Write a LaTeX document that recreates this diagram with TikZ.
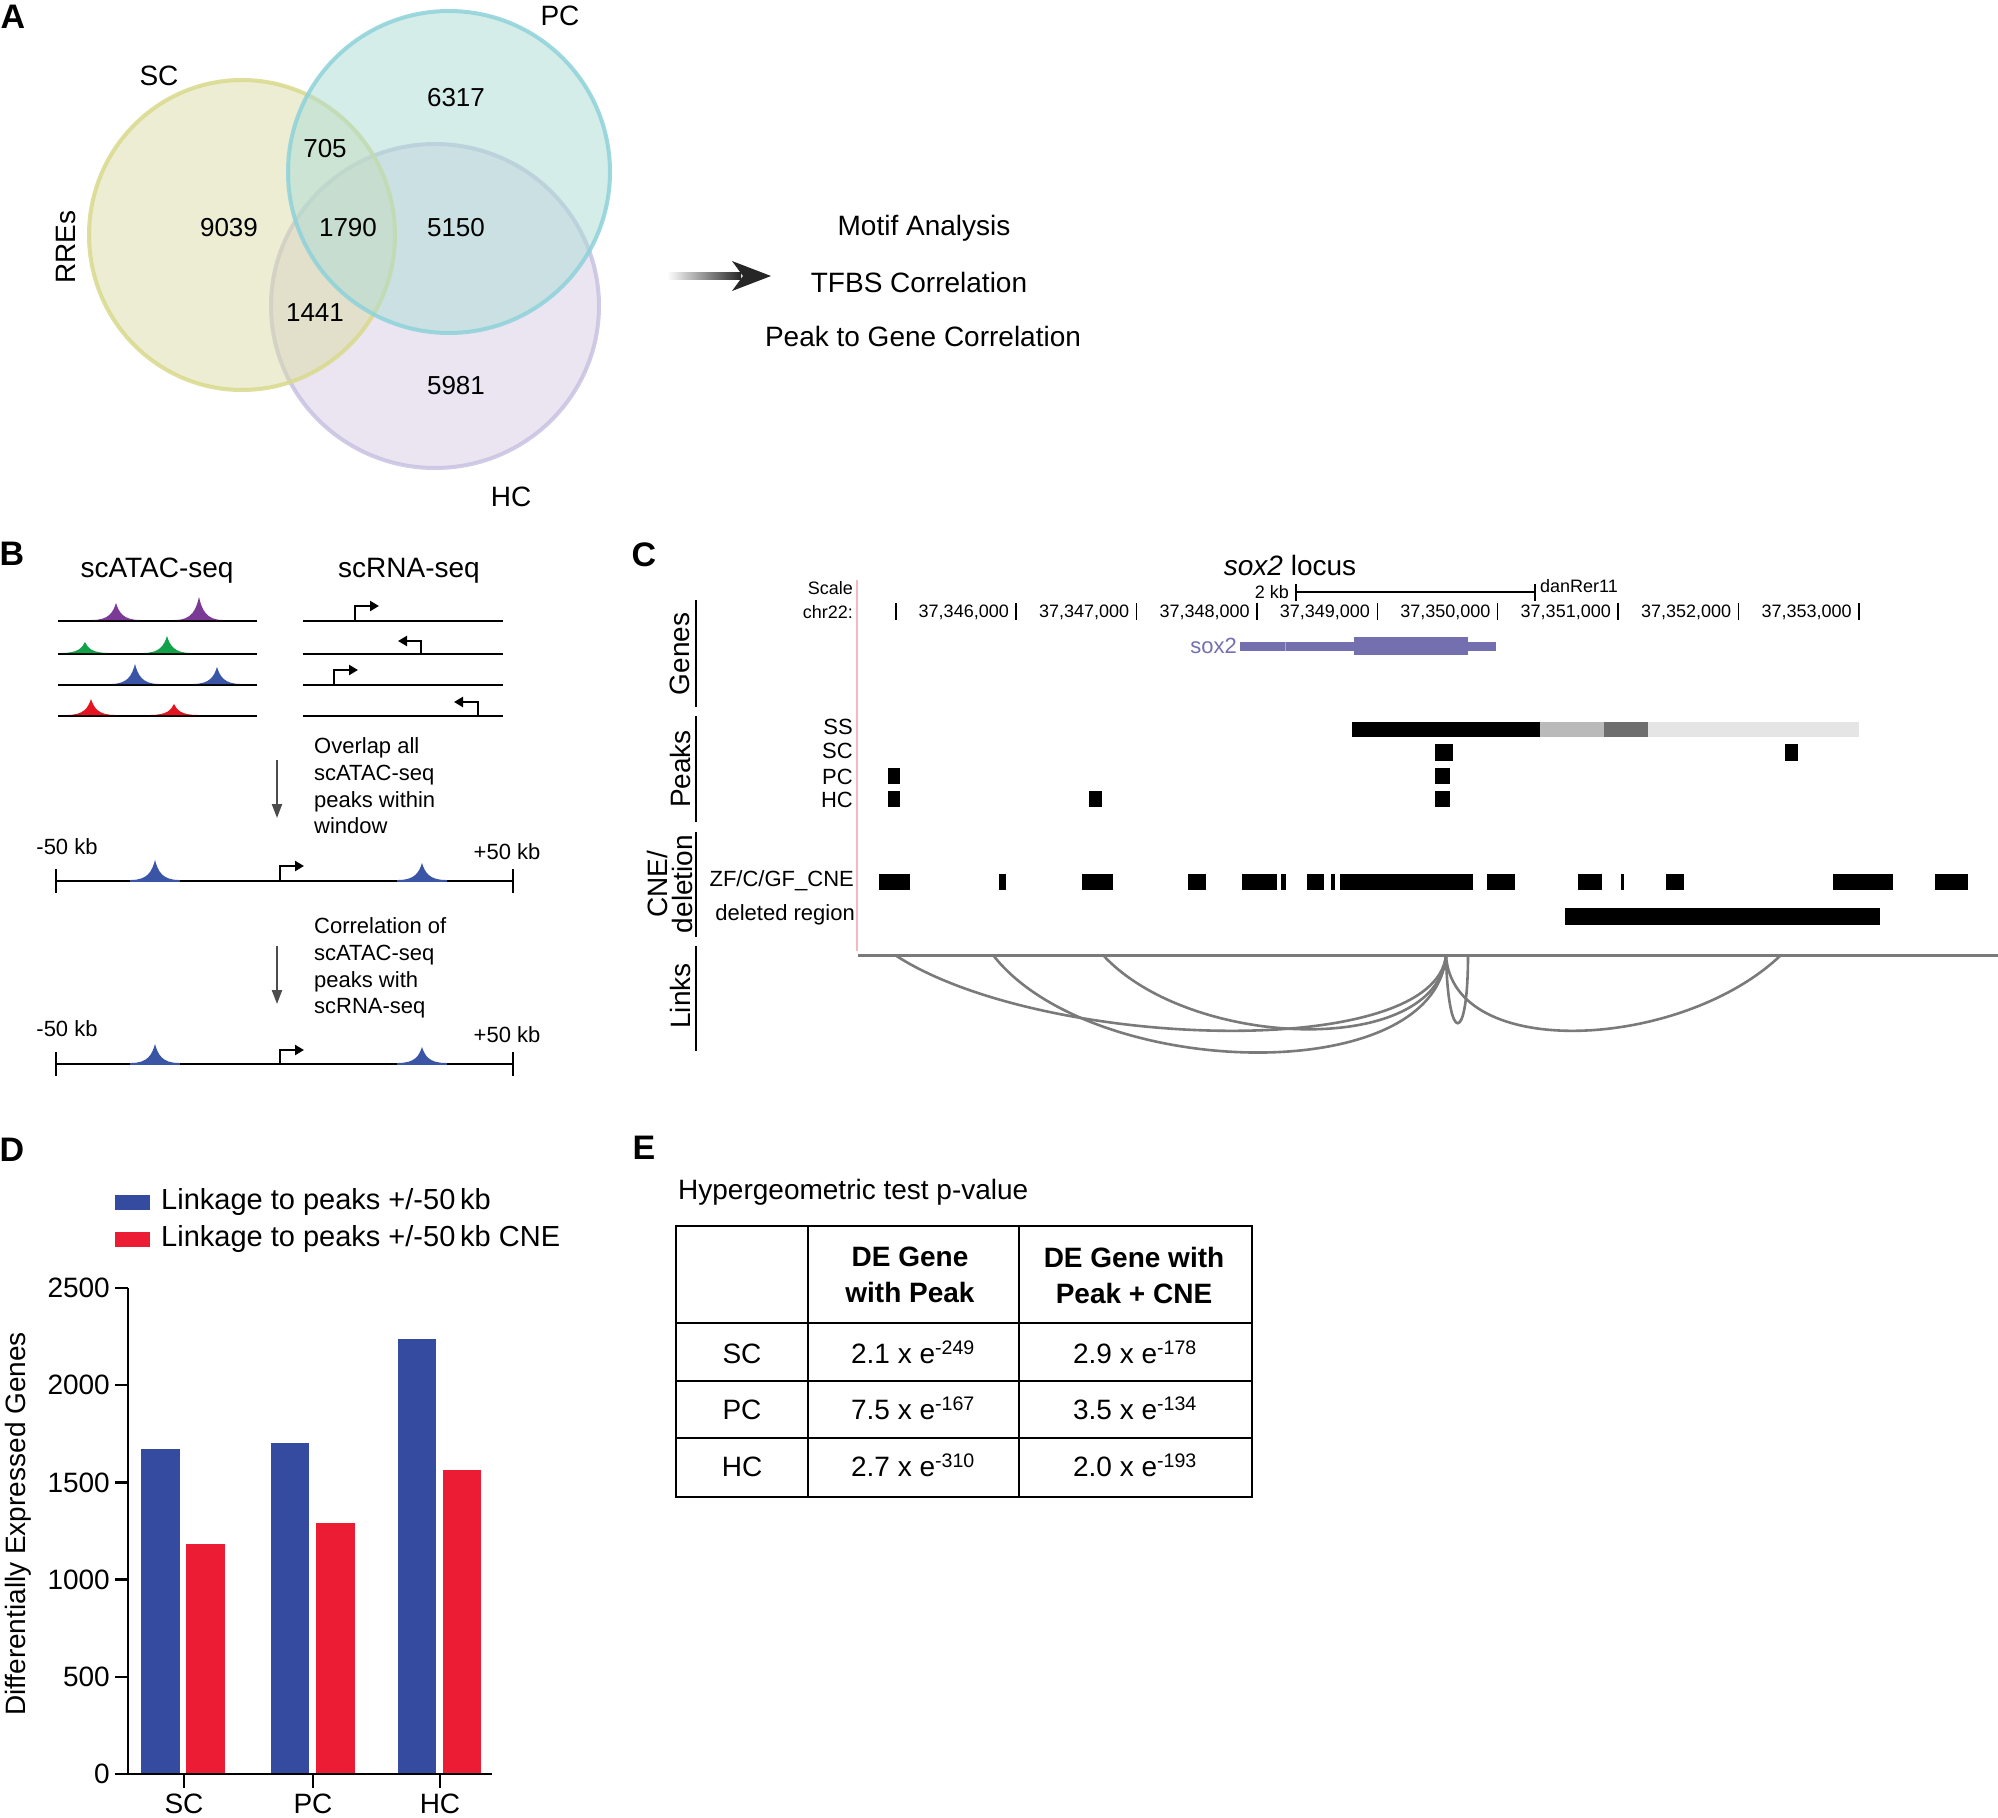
\documentclass[tikz,border=0pt]{standalone}
\usepackage{fontspec}
\setmainfont{Liberation Sans}
\usetikzlibrary{arrows.meta}
\newcommand\fsz[2]{\fontsize{#1}{#2}\selectfont}
\definecolor{scfill}{HTML}{DADCA6}
\definecolor{scline}{HTML}{D9DA8C}
\definecolor{pcfill}{HTML}{ABDCD4}
\definecolor{pcline}{HTML}{8ED2DA}
\definecolor{hcfill}{HTML}{D8CCE6}
\definecolor{hcline}{HTML}{C8C2E2}
\definecolor{atpurple}{HTML}{7B3A96}
\definecolor{atgreen}{HTML}{12A24A}
\definecolor{atblue}{HTML}{3A55A5}
\definecolor{atred}{HTML}{E5131F}
\definecolor{genepurple}{HTML}{7470B0}
\definecolor{linkgray}{HTML}{7A7A7A}
\definecolor{barblue}{HTML}{354B9F}
\definecolor{barred}{HTML}{EC1C35}
\definecolor{pinkline}{HTML}{F4B8BE}
\newcommand\atacpeak[4]{%
  \fill[#4] ({#1-24},#2) .. controls ({#1-7},#2) and ({#1-3},{#3+0.55*(#2-#3)}) .. (#1,#3)
     .. controls ({#1+3},{#3+0.55*(#2-#3)}) and ({#1+7},#2) .. ({#1+24},#2) -- cycle;}
\begin{document}
\begin{tikzpicture}[x=1pt,y=-1pt,
  lab/.style={font=\fsz{34}{40}\bfseries, inner sep=0},
  t28/.style={font=\fsz{28}{34}, inner sep=0},
  t26/.style={font=\fsz{26}{31}, inner sep=0},
  t22/.style={font=\fsz{22}{27}, inner sep=0},
  t18/.style={font=\fsz{18}{22}, inner sep=0},
  bline/.style={line width=2.5, black},
  prom/.style={line width=2.6, black, -{Triangle[length=9pt,width=10pt]}},
  downarr/.style={line width=2.2, black!70, -{Triangle[length=14pt,width=10pt]}},
  linkarc/.style={linkgray, line width=2.6},
  trk/.style={line width=2, black},
  tick/.style={line width=1.4, black},
]
\clip (0,0) rectangle (1998,1818);
\fill[white] (0,0) rectangle (1998,1818);

% ---------------- Panel A ----------------
\node[lab] (labA) at (13,17) {A};
\fill[hcfill,fill opacity=.5] (435,306) ellipse [x radius=164,y radius=162];
\draw[hcline,line width=4,draw opacity=.85] (435,306) ellipse [x radius=164,y radius=162];
\fill[scfill,fill opacity=.5] (242,235) ellipse [x radius=153,y radius=155];
\draw[scline,line width=4,draw opacity=.85] (242,235) ellipse [x radius=153,y radius=155];
\fill[pcfill,fill opacity=.5] (449,172) ellipse [x radius=161,y radius=161];
\draw[pcline,line width=4,draw opacity=.85] (449,172) ellipse [x radius=161,y radius=161];
\node[t28] (vSC) at (159,76) {SC};
\node[t28] (vPC) at (560,16) {PC};
\node[t28] (vHC) at (511,497) {HC};
\node[t28,rotate=90] (vRRE) at (66,247) {RREs};
\node[t26] (n6317) at (456,98) {6317};
\node[t26] (n705) at (325,149) {705};
\node[t26] (n9039) at (229,228) {9039};
\node[t26] (n1790) at (348,228) {1790};
\node[t26] (n5150) at (456,228) {5150};
\node[t26] (n1441) at (315,313) {1441};
\node[t26] (n5981) at (456,386) {5981};
\coordinate (arrAs) at (667,276);
\coordinate (arrAe) at (771,276);
\shade[left color=white, right color=black!85] (667,272.5) rectangle (741,279.5);
\fill[black!85] (732,261) -- (arrAe) -- (732,291) -- (743,276) -- cycle;
\node[t28] (motif) at (924,228) {Motif Analysis};
\node[t28] (tfbs) at (919,282) {TFBS Correlation};
\node[t28] (p2g) at (923,336) {Peak to Gene Correlation};

% ---------------- Panel B ----------------
\node[lab] (labB) at (12,554) {B};
\node[t28] (atacT) at (157,571) {scATAC-seq};
\node[t28] (rnaT) at (409,571) {scRNA-seq};
\foreach \yy in {621,654,685,716}{
  \draw[bline] (58,\yy) -- (257,\yy);
  \draw[bline] (303,\yy) -- (503,\yy);
}
\atacpeak{116}{620}{603}{atpurple}
\atacpeak{199}{620}{597}{atpurple}
\atacpeak{85}{653}{642}{atgreen}
\atacpeak{167}{653}{636}{atgreen}
\atacpeak{135}{684}{664}{atblue}
\atacpeak{217}{684}{667}{atblue}
\atacpeak{91}{715}{699}{atred}
\atacpeak{174}{715}{704}{atred}
\draw[prom] (355,621) -- (355,606) -- (379,606);
\draw[prom] (421,654) -- (421,641) -- (398,641);
\draw[prom] (334,685) -- (334,670) -- (358,670);
\draw[prom] (478,716) -- (478,702) -- (454,702);
\coordinate (dA1) at (277,760);
\coordinate (dA2) at (277,818);
\draw[downarr] (dA1) -- (dA2);
\node[font=\fsz{22}{26.7}, inner sep=0, anchor=west, align=left] (ovl) at (314,786)
  {Overlap all\\scATAC-seq\\peaks within\\window};
\node[t22] (m50a) at (67,847) {-50 kb};
\node[t22] (p50a) at (507,852) {+50 kb};
\draw[bline] (56,881) -- (513,881);
\draw[bline] (56,869) -- (56,893);
\draw[bline] (513,869) -- (513,893);
\draw[atblue,line width=2.5] (130,881) -- (180,881);
\draw[atblue,line width=2.5] (397,881) -- (447,881);
\atacpeak{155}{880}{860}{atblue}
\atacpeak{422}{880}{863}{atblue}
\draw[prom] (280,881) -- (280,866) -- (304,866);
\coordinate (dB1) at (277,946);
\coordinate (dB2) at (277,1004);
\draw[downarr] (dB1) -- (dB2);
\node[font=\fsz{22}{26.7}, inner sep=0, anchor=west, align=left] (corr) at (314,968)
  {Correlation of\\scATAC-seq\\peaks with\\scRNA-seq};
\node[t22] (m50b) at (67,1029) {-50 kb};
\node[t22] (p50b) at (507,1035) {+50 kb};
\draw[bline] (56,1064) -- (513,1064);
\draw[bline] (56,1052) -- (56,1076);
\draw[bline] (513,1052) -- (513,1076);
\draw[atblue,line width=2.5] (130,1064) -- (180,1064);
\draw[atblue,line width=2.5] (397,1064) -- (447,1064);
\atacpeak{155}{1063}{1044}{atblue}
\atacpeak{422}{1063}{1047}{atblue}
\draw[prom] (280,1064) -- (280,1050) -- (304,1050);

% ---------------- Panel C ----------------
\node[lab] (labC) at (644,555) {C};
\node[t28] (locus) at (1290,565) {\textit{sox2} locus};
\node[t18,anchor=east] (scaleT) at (853,588) {Scale};
\node[t18,anchor=east] (chrT) at (853,612) {chr22:};
\node[t18,anchor=east] (kbT) at (1289,592) {2 kb};
\draw[line width=1.6] (1296,592) -- (1535,592);
\draw[line width=1.6] (1296,584) -- (1296,601);
\draw[line width=1.6] (1535,584) -- (1535,601);
\node[t18,anchor=west] (danT) at (1540,586) {danRer11};
\draw[tick] (896,603) -- (896,620);
\foreach \k/\lbl in {0/37{,}346{,}000,1/37{,}347{,}000,2/37{,}348{,}000,3/37{,}349{,}000,4/37{,}350{,}000,5/37{,}351{,}000,6/37{,}352{,}000,7/37{,}353{,}000}{
  \draw[tick] ({1016+120.4*\k},603) -- ({1016+120.4*\k},620);
  \node[t18,anchor=east] (tk\k) at ({1009+120.4*\k},612) {\lbl};
}
\draw[pinkline,line width=1.4] (857,580) -- (857,951);
\node[font=\fsz{22}{27}, inner sep=0, anchor=east, text=genepurple] (sox2T) at (1237,646) {sox2};
\fill[genepurple] (1240,642) rectangle (1496,651);
\fill[genepurple] (1354,637) rectangle (1468,655);
\draw[genepurple!60!white,line width=0.8] (1285,642) -- (1285,651);
% group labels
\node[t28,rotate=90] (gGenes) at (680,654) {Genes};
\draw[trk] (696,600) -- (696,707);
\node[t28,rotate=90] (gPeaks) at (680,769) {Peaks};
\draw[trk] (696,716) -- (696,822);
\node[font=\fsz{28}{25}, inner sep=0, rotate=90, align=center] (gCNE) at (670,884) {CNE/\\deletion};
\draw[trk] (696,832) -- (696,937);
\node[t28,rotate=90] (gLinks) at (680,996) {Links};
\draw[trk] (696,946) -- (696,1051);
% peak tracks
\node[t22,anchor=east] (lSS) at (853,727) {SS};
\node[t22,anchor=east] (lSC) at (853,751) {SC};
\node[t22,anchor=east] (lPC) at (853,777) {PC};
\node[t22,anchor=east] (lHC) at (853,800) {HC};
\fill[black] (1352,722) rectangle (1540,737);
\fill[black!27] (1540,722) rectangle (1604,737);
\fill[black!57] (1604,722) rectangle (1648,737);
\fill[black!10] (1648,722) rectangle (1859,737);
\fill[black] (1435,744) rectangle (1453,761);
\fill[black] (1785,744) rectangle (1798,761);
\fill[black] (888,768) rectangle (900,784);
\fill[black] (1435,768) rectangle (1450,784);
\fill[black] (888,791) rectangle (900,807);
\fill[black] (1089,791) rectangle (1102,807);
\fill[black] (1435,791) rectangle (1450,807);
% CNE track
\node[t22,anchor=east] (lCNE) at (854,881) {ZF/C/GF\_CNE};
\node[t22,anchor=east] (lDel) at (855,915) {deleted region};
\foreach \a/\b in {879/910,999/1006,1082/1113,1188/1206,1242/1277,1281/1286,1307/1324,1331/1335,1340/1473,1487/1515,1578/1602,1621/1624,1666/1684,1833/1893,1935/1968}{
  \fill[black] (\a,874) rectangle (\b,890);
}
\fill[black] (1565,908) rectangle (1880,925);
% links
\draw[linkgray,line width=3] (858,955) -- (1998,955);
\draw[linkarc] (895,955) .. controls (1040,1050) and (1436,1062) .. (1446,955);
\draw[linkarc] (993,955) .. controls (1090,1080) and (1436,1090) .. (1446,955);
\draw[linkarc] (1103,955) .. controls (1190,1050) and (1438,1058) .. (1446,955);
\draw[linkarc] (1446,955) .. controls (1448,1046) and (1468,1046) .. (1468,955);
\draw[linkarc] (1446,955) .. controls (1452,1062) and (1682,1050) .. (1781,955);

% ---------------- Panel D ----------------
\node[lab] (labD) at (12,1150) {D};
\fill[barblue] (115,1195) rectangle (150,1210);
\fill[barred] (115,1232) rectangle (150,1247);
\node[font=\fsz{29}{34}, inner sep=0, anchor=west] (leg1) at (161,1202) {Linkage to peaks +/-50\,kb};
\node[font=\fsz{29}{34}, inner sep=0, anchor=west] (leg2) at (161,1239) {Linkage to peaks +/-50\,kb CNE};
\fill[barblue] (141,1449) rectangle (180,1774);
\fill[barred] (186,1544) rectangle (225,1774);
\fill[barblue] (271,1443) rectangle (309,1774);
\fill[barred] (316,1523) rectangle (355,1774);
\fill[barblue] (398,1339) rectangle (436,1774);
\fill[barred] (443,1470) rectangle (481,1774);
\draw[line width=2.5] (128,1288) -- (128,1775);
\draw[line width=2.5] (115,1774) -- (492,1774);
\foreach \v in {0,500,1000,1500,2000,2500}{
  \draw[line width=2.5] (115,{1774-0.1944*\v}) -- (128,{1774-0.1944*\v});
  \node[t28,anchor=east] (yt\v) at (110,{1774-0.1944*\v}) {\v};
}
\foreach \xx/\nm in {184/SC,313/PC,440/HC}{
  \draw[line width=2.5] (\xx,1774) -- (\xx,1788);
  \node[t28,anchor=north] (xc\nm) at (\xx,1794) {\nm};
}
\node[t28,rotate=90] (ylab) at (18,1524) {Differentially Expressed Genes};

% ---------------- Panel E ----------------
\node[lab] (labE) at (644,1148) {E};
\node[t28,anchor=west] (hyp) at (678,1192) {Hypergeometric test p-value};
\foreach \yy in {1226,1323,1381,1438,1497}{
  \draw[line width=2.5] (675,\yy) -- (1253,\yy);
}
\foreach \xx in {676,808,1019,1252}{
  \draw[line width=2.5] (\xx,1226) -- (\xx,1497);
}
\node[font=\fsz{28}{36}\bfseries, inner sep=0, align=center] (h2) at (910,1275) {DE Gene\\with Peak};
\node[font=\fsz{28}{36}\bfseries, inner sep=0, align=center] (h3) at (1134,1275) {DE Gene with\\Peak + CNE};
\node[t28] (rSC) at (742,1354) {SC};
\node[t28] (rPC) at (742,1410) {PC};
\node[t28] (rHC) at (742,1467) {HC};
\node[t28] (v11) at (913,1352) {2.1 x e\textsuperscript{-249}};
\node[t28] (v12) at (1135,1352) {2.9 x e\textsuperscript{-178}};
\node[t28] (v21) at (913,1408) {7.5 x e\textsuperscript{-167}};
\node[t28] (v22) at (1135,1408) {3.5 x e\textsuperscript{-134}};
\node[t28] (v31) at (913,1465) {2.7 x e\textsuperscript{-310}};
\node[t28] (v32) at (1135,1465) {2.0 x e\textsuperscript{-193}};
\end{tikzpicture}
\end{document}
